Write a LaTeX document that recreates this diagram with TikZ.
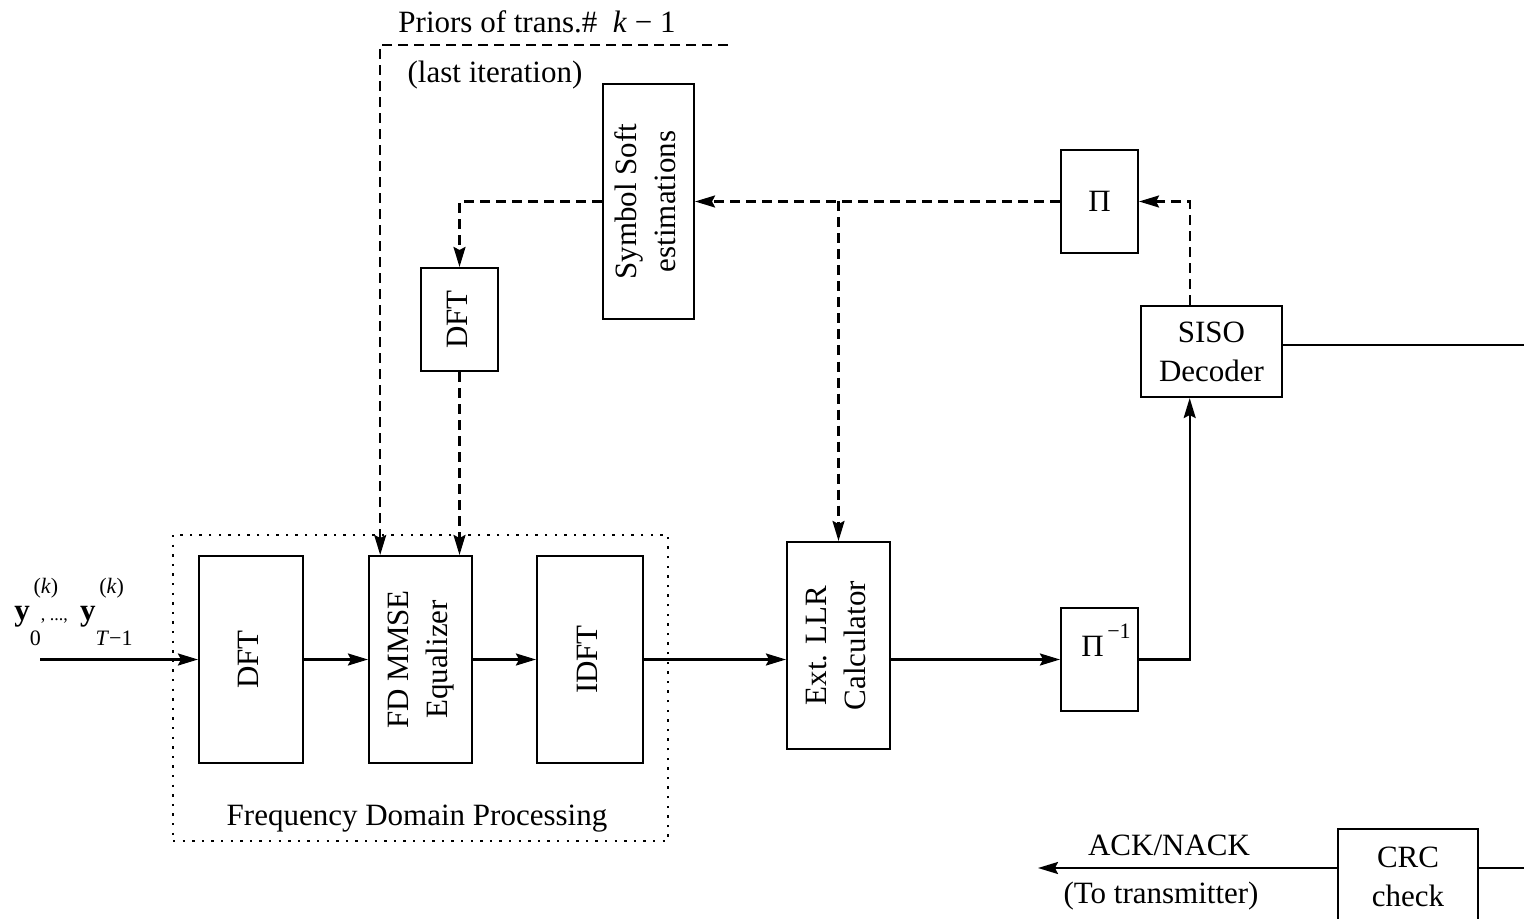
\documentclass[tikz,border=0pt]{standalone}
\usepackage{fontspec}
\setmainfont{Liberation Serif}
\usetikzlibrary{arrows.meta,calc}
\newcommand\fsz{\fontsize{15.5}{19.5}\selectfont}
\newcommand\ssz{\fontsize{11}{11}\selectfont}
\newcommand\rtxt[1]{\rotatebox{90}{\begin{tabular}{@{}c@{}}#1\end{tabular}}}
\newcommand\yk[1]{\textbf{y}\rlap{\raisebox{13.5pt}{\ssz\,(\textit{k})}}\raisebox{-12.5pt}{\ssz #1}}
\begin{document}
\begin{tikzpicture}[x=0.5pt,y=-0.5pt,
  every node/.style={font=\fsz},
  box/.style 2 args={draw, line width=1.05pt, minimum width=#1*0.5pt, minimum height=#2*0.5pt, inner sep=0pt},
  arr/.style={line width=1.05pt, -{Stealth[length=10pt,width=6pt,inset=1.5pt]}},
  darr/.style={arr, dash pattern=on 5pt off 3pt},
  ln/.style={line width=1.05pt}]
\useasboundingbox (0,0) rectangle (1524,919);

% frequency domain processing frame
\node[draw, line width=1.05pt, dash pattern=on 1.2pt off 3.6pt, minimum width=495*0.5pt, minimum height=306*0.5pt, inner sep=0pt] (fdp) at (420.5,688) {};
\node (fdplab) at (417,819) {Frequency Domain Processing};

% blocks
\node[box={104}{207}] (dft1) at (251,659.5) {\rtxt{DFT}};
\node[box={103}{207}] (fd) at (420.5,659.5) {\rtxt{FD MMSE\\Equalizer}};
\node[box={106}{207}] (idft) at (590,659.5) {\rtxt{IDFT}};
\node[box={103}{207}] (llr) at (838.5,645.5) {\rtxt{Ext. LLR\\Calculator}};
\node[box={77}{103}] (pinv) at (1099.5,659.5) {};
\node (pinvlab) at (1106,640) {Π\raisebox{9pt}{\ssz\,−1}};
\node[box={141}{91}, align=center] (siso) at (1211.5,351.5) {SISO\\Decoder};
\node[box={77}{103}] (pi) at (1099.5,201.5) {Π};
\node[box={91}{235}] (sym) at (648.5,201.5) {\rtxt{Symbol Soft\\estimations}};
\node[box={77}{103}] (dft2) at (459.5,319.5) {\rtxt{DFT}};
\node[box={140}{96}, align=center] (crc) at (1408,877) {CRC\\check};

% texts
\node (priors) at (537,22) {Priors of trans.\#\ \ \textit{k} − 1};
\node (last) at (495,75) {(last iteration)};
\node (ack) at (1169,845) {ACK/NACK};
\node (totx) at (1161,896) {(To transmitter)};
\node[anchor=base west, inner sep=0pt] (ylab) at (14,620) {\yk{0}{\fontsize{9}{9}\selectfont, ..., }\ \yk{\textit{T}−1}};

% coordinates
\coordinate (in) at (40,659.5);
\coordinate (pr) at (728,45);
\coordinate (sisoout) at (1524,345);
\coordinate (crcin) at (1524,868);
\coordinate (ackend) at (1038,868);

% solid connectors
\draw[arr] (in) -- (dft1.west);
\draw[arr] (dft1) -- (fd);
\draw[arr] (fd) -- (idft);
\draw[arr] (idft.east) -- (idft.east -| llr.west);
\draw[arr] (pinv.west -| llr.east) -- (pinv.west);
\draw[arr] (pinv.east) -| ($(siso.south west)!0.3475!(siso.south east)$);
\draw[ln] (siso.east |- sisoout) -- (sisoout);
\draw[ln] (crcin) -- (crc.east |- crcin);
\draw[arr] (crc.west |- crcin) -- (ackend);

% dashed connectors
\draw[darr] ($(siso.north west)!0.3475!(siso.north east)$) |- (pi.east);
\draw[darr] (pi.west) -- (sym.east);
\draw[darr] (pi.west -| llr.north) -- (llr.north);
\draw[darr] (sym.west) -| (dft2.north);
\draw[darr] (dft2.south) -- (dft2.south |- fd.north);
\draw[darr] (pr) -| ($(fd.north west)!0.1165!(fd.north east)$);
\end{tikzpicture}
\end{document}
